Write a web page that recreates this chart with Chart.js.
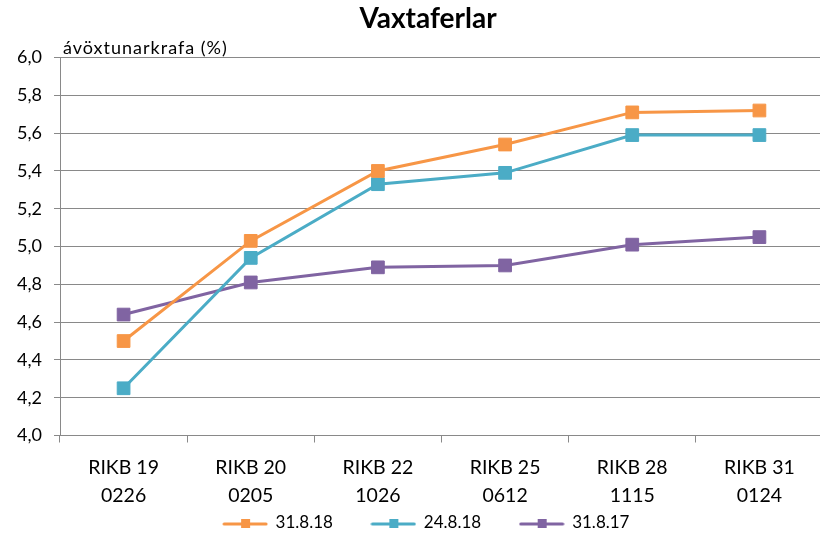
<!DOCTYPE html>
<html>
<head>
<meta charset="utf-8">
<script src="https://cdn.jsdelivr.net/npm/chart.js@4"></script>
<style>
  html, body { margin: 0; padding: 0; background: #fff; overflow: hidden; }
  /* a bit wider than the window: the original plot runs slightly past the right edge */
  #wrap { width: 833px; height: 533px; position: relative; }
</style>
</head>
<body>
<div id="wrap"><canvas id="yieldChart"></canvas></div>
<script>
// --- Data ---
const categories = [
    ['RIKB 19', '0226'],
    ['RIKB 20', '0205'],
    ['RIKB 22', '1026'],
    ['RIKB 25', '0612'],
    ['RIKB 28', '1115'],
    ['RIKB 31', '0124']
];
const seriesNames = ['31.8.18', '24.8.18', '31.8.17'];
const yield_31_8_18 = [4.50, 5.03, 5.40, 5.54, 5.71, 5.72];
const yield_24_8_18 = [4.25, 4.94, 5.33, 5.39, 5.59, 5.59];
const yield_31_8_17 = [4.64, 4.81, 4.89, 4.90, 5.01, 5.05];
const yTicks = { min: 4.0, max: 6.0, step: 0.2 };

const titleText = 'Vaxtaferlar';
const yAxisTitle = 'ávöxtunarkrafa (%)';

// Excel 2010 palette
const colors = ['#F79646', '#4BACC6', '#8064A2'];
const FONT = 'Lato, "Open Sans", sans-serif';
const GRID = '#898989';

// legend swatch: line with a small square on it
function makeSwatch(color) {
    const c = document.createElement('canvas');
    c.width = 46; c.height = 14;
    const g = c.getContext('2d');
    g.strokeStyle = color;
    g.lineWidth = 3;
    g.lineCap = 'round';
    g.beginPath();
    g.moveTo(2, 8); g.lineTo(44, 8);
    g.stroke();
    g.fillStyle = color;
    g.fillRect(19, 3, 9, 9);
    return c;
}

// y axis caption sits just above the plot, left aligned
const axisCaption = {
    id: 'axisCaption',
    afterDraw(chart) {
        const { ctx, chartArea } = chart;
        ctx.save();
        ctx.font = '18px ' + FONT;
        ctx.letterSpacing = '1px';
        ctx.fillStyle = '#000';
        ctx.textAlign = 'left';
        ctx.textBaseline = 'alphabetic';
        ctx.fillText(yAxisTitle, chartArea.left + 3, chartArea.top - 4);
        ctx.restore();
    }
};

const datasets = [yield_31_8_18, yield_24_8_18, yield_31_8_17].map((vals, i) => ({
    label: seriesNames[i],
    data: vals,
    borderColor: colors[i],
    backgroundColor: colors[i],
    borderWidth: 3,
    pointStyle: 'rect',
    pointRadius: 9,
    pointHoverRadius: 9,
    pointBorderWidth: 1,
    tension: 0
}));

new Chart(document.getElementById('yieldChart'), {
    type: 'line',
    data: { labels: categories, datasets: datasets },
    options: {
        responsive: true,
        maintainAspectRatio: false,
        animation: false,
        // negative right padding widens the title box so it centres like the original
        layout: { padding: { left: 0, right: -23, top: 0, bottom: -8.5 } },
        plugins: {
            title: {
                display: true,
                text: titleText,
                color: '#000',
                font: { family: FONT, size: 28, weight: 'bold' },
                padding: { top: 2, bottom: 22 }
            },
            legend: {
                position: 'bottom',
                fullSize: false,
                labels: {
                    usePointStyle: true,
                    pointStyleWidth: 44,
                    padding: 8,
                    color: '#000',
                    font: { family: FONT, size: 17 },
                    generateLabels(chart) {
                        return chart.data.datasets.map((ds, i) => ({
                            text: ds.label + '       ',
                            pointStyle: makeSwatch(colors[i]),
                            fillStyle: colors[i],
                            strokeStyle: colors[i],
                            lineWidth: 0,
                            fontColor: '#000',
                            datasetIndex: i
                        }));
                    }
                }
            },
            tooltip: { enabled: false }
        },
        scales: {
            x: {
                offset: true,
                grid: { display: true, offset: true, drawOnChartArea: false, drawTicks: true, tickLength: 7, color: GRID },
                border: { color: GRID },
                ticks: {
                    color: '#000',
                    padding: 11,
                    maxRotation: 0,
                    font: { family: FONT, size: 19.5, lineHeight: 1.44 }
                },
                afterFit(scale) { scale.height = 71; }
            },
            y: {
                min: yTicks.min,
                max: yTicks.max,
                grid: { color: GRID, lineWidth: 1, tickLength: 6 },
                border: { color: GRID },
                ticks: {
                    stepSize: yTicks.step,
                    padding: 12,
                    color: '#000',
                    font: { family: FONT, size: 18 },
                    callback: (v) => v.toFixed(1).replace('.', ',')
                },
                afterFit(scale) { scale.width = 60; }
            },
            // empty spacer on the right
            yPad: {
                type: 'linear',
                position: 'right',
                grid: { display: false, drawTicks: false },
                border: { display: false },
                ticks: { display: false },
                afterFit(scale) { scale.width = 20; }
            }
        }
    },
    plugins: [axisCaption]
});
</script>
</body>
</html>
